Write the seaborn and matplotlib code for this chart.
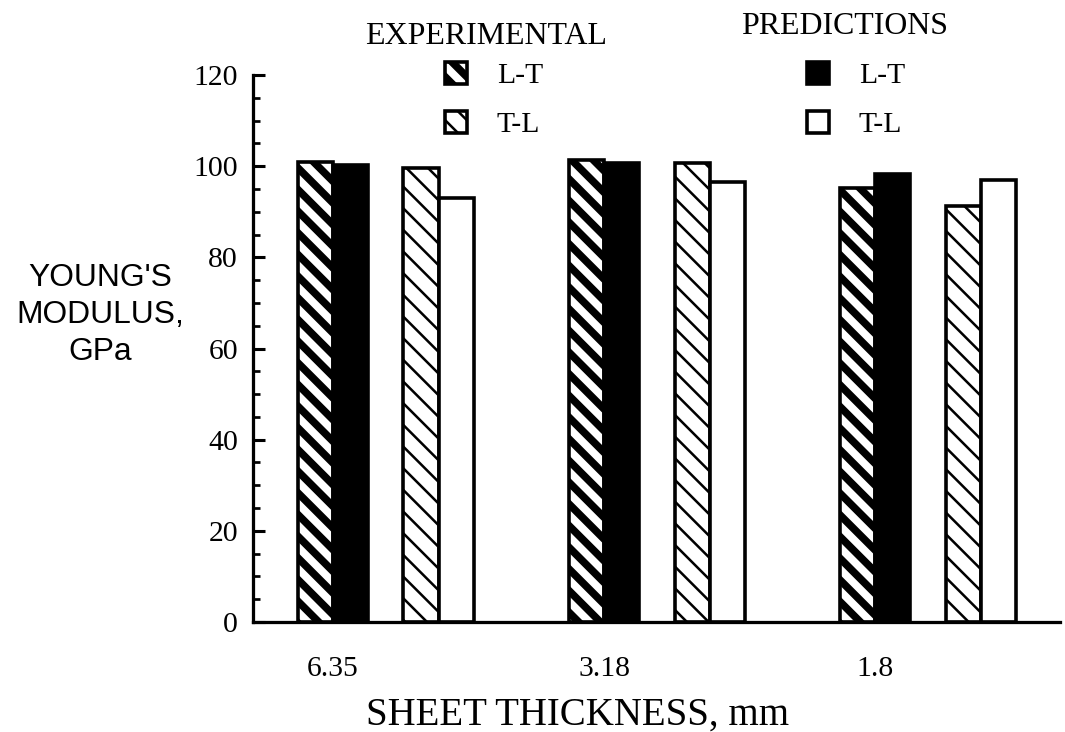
import numpy as np
import pandas as pd
import matplotlib
matplotlib.use("Agg")
from matplotlib import pyplot as plt
from matplotlib.patches import Patch
from matplotlib.ticker import MultipleLocator
import seaborn as sns

# values (GPa)
thickness = ["6.35", "3.18", "1.8"]
exp_lt = [101.0, 101.3, 95.3]
pred_lt = [100.2, 100.7, 98.2]
exp_tl = [99.6, 100.6, 91.2]
pred_tl = [93.0, 96.6, 97.0]

# "gap" is an empty hue level so the L-T and T-L pairs sit apart
series_order = ["exp L-T", "pred L-T", "gap", "exp T-L", "pred T-L"]
fills = {"exp L-T": "white", "pred L-T": "black", "gap": "white",
         "exp T-L": "white", "pred T-L": "white"}
hatches = {"exp L-T": "\\\\", "pred L-T": "", "gap": "", "exp T-L": "\\\\", "pred T-L": ""}
hatch_lw = {"exp L-T": 4.2, "pred L-T": 1.0, "gap": 1.0, "exp T-L": 1.4, "pred T-L": 1.0}

rows = []
for name, vals in [("exp L-T", exp_lt), ("pred L-T", pred_lt),
                   ("exp T-L", exp_tl), ("pred T-L", pred_tl)]:
    for t, v in zip(thickness, vals):
        rows.append({"thickness": t, "series": name, "modulus": v})
df = pd.DataFrame(rows)

sns.set_style("ticks")
plt.rcParams["font.family"] = ["Liberation Serif", "DejaVu Serif"]
plt.rcParams["hatch.linewidth"] = 1.4
for key in ["text.color", "axes.labelcolor", "xtick.color", "ytick.color", "axes.edgecolor"]:
    plt.rcParams[key] = "black"

DPI = 130
W, H = 1065, 732
fig = plt.figure(figsize=(W / DPI, H / DPI), dpi=DPI)
ax = fig.add_axes([253 / W, 1 - 622 / H, 807 / W, 547 / H])

group_width = 0.65
sns.barplot(data=df, x="thickness", y="modulus", hue="series",
            order=thickness, hue_order=series_order, palette=fills,
            width=group_width, saturation=1, errorbar=None, legend=False,
            edgecolor="black", linewidth=2.0, ax=ax)

slot = group_width / len(series_order)
for bar in ax.patches:
    c = bar.get_x() + bar.get_width() / 2
    k = int(round((c - round(c)) / slot)) + 2
    name = series_order[k]
    bar.set_hatch(hatches[name])
    try:
        bar.set_hatch_linewidth(hatch_lw[name])
    except AttributeError:
        pass

ax.set_xlim(-0.49, 2.487)
ax.set_ylim(0, 120)
ax.yaxis.set_major_locator(MultipleLocator(20))
ax.yaxis.set_minor_locator(MultipleLocator(5))
ax.set_xticks(np.arange(len(thickness)) - 1.5 * slot, thickness)
ax.tick_params(axis="y", which="major", direction="in", length=6.6, width=1.7,
               pad=8.3, labelsize=16.5)
ax.tick_params(axis="y", which="minor", direction="in", length=3.9, width=1.5)
ax.tick_params(axis="x", length=0, pad=19, labelsize=16.5)
ax.set_xlabel("")
ax.set_ylabel("")
for side in ["top", "right"]:
    ax.spines[side].set_visible(False)
for side in ["left", "bottom"]:
    ax.spines[side].set_linewidth(1.8)

fig.text(100 / W, 1 - 315 / H, "YOUNG'S\nMODULUS,\nGPa", ha="center", va="center",
         multialignment="center", fontsize=17.6, linespacing=1.3,
         family=["Liberation Sans", "DejaVu Sans"])
fig.text(578 / W, 1 - 715 / H, "SHEET THICKNESS, mm", ha="center", va="center",
         fontsize=21.5)

# legends
fig.text(486 / W, 1 - 36 / H, "EXPERIMENTAL", ha="center", va="center", fontsize=17.7)
fig.text(845 / W, 1 - 26 / H, "PREDICTIONS", ha="center", va="center", fontsize=17.7)

leg_kw = dict(frameon=False, fontsize=16.4, handlelength=0.75, handleheight=0.75,
              handletextpad=1.0, labelspacing=0.74, borderpad=0, borderaxespad=0,
              loc="upper left")
exp_handles = [Patch(facecolor="white", edgecolor="black", hatch="\\\\", linewidth=2.0, label="L-T"),
               Patch(facecolor="white", edgecolor="black", hatch="\\\\", linewidth=2.0, label="T-L")]
pred_handles = [Patch(facecolor="black", edgecolor="black", linewidth=2.0, label="L-T"),
                Patch(facecolor="white", edgecolor="black", linewidth=2.0, label="T-L")]
leg1 = fig.legend(handles=exp_handles, bbox_to_anchor=(445 / W, 1 - 62 / H), **leg_kw)
leg2 = fig.legend(handles=pred_handles, bbox_to_anchor=(807 / W, 1 - 62 / H), **leg_kw)
for h, lw in zip(leg1.legend_handles, [4.2, 1.4]):
    try:
        h.set_hatch_linewidth(lw)
    except AttributeError:
        pass

fig.savefig("out.png", dpi=DPI)
